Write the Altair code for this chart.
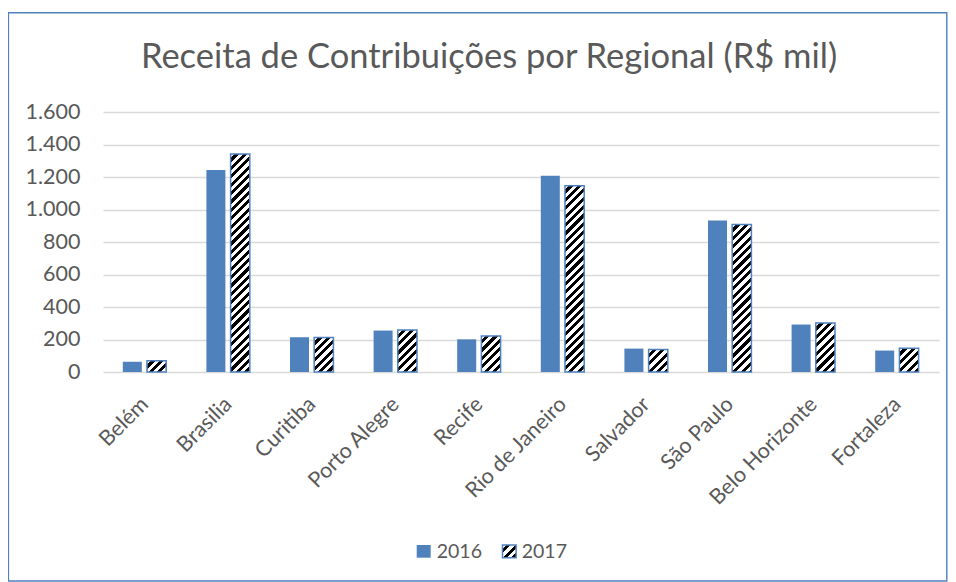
import altair as alt
import pandas as pd

# ---------------- data ----------------
categories = ["Belém", "Brasilia", "Curitiba", "Porto Alegre", "Recife",
              "Rio de Janeiro", "Salvador", "São Paulo", "Belo Horizonte", "Fortaleza"]
values_2016 = [63, 1243, 214, 255, 201, 1208, 144, 933, 292, 132]
values_2017 = [70, 1341, 212, 258, 222, 1146, 138, 908, 302, 146]
years = ["2016", "2017"]
y_ticks = [0, 200, 400, 600, 800, 1000, 1200, 1400, 1600]
title_text = "Receita de Contribuições por Regional (R$ mil)"

# ---------------- style / geometry ----------------
W, H = 836, 260
YMAX = 1600
FONT = "Lato"
TXT = "#595959"
BLUE = "#4F81BD"
GRID = "#D9D9D9"
cat_px = W / len(categories)
off16 = (-22 / cat_px, -3 / cat_px)
off17 = (2.2 / cat_px, 21.4 / cat_px)


def hatch(w, h, period=8.4, black_frac=0.5):
    """Diagonal '/' stripes as a sharp-stop linear gradient (bbox units)."""
    total = w + h
    k = total / (w * w + h * h)
    seg = [period * (1 - black_frac), period * black_frac]
    stops = []
    a, black = 0.0, False
    while a < total:
        b = min(a + seg[1 if black else 0], total)
        col = "#000000" if black else "#FFFFFF"
        stops.append(alt.GradientStop(color=col, offset=a / total))
        stops.append(alt.GradientStop(color=col, offset=b / total))
        a, black = b, not black
    return alt.LinearGradient(gradient="linear", stops=stops,
                              x1=0, y1=0, x2=k * w, y2=k * h)


rows = []
for i, c in enumerate(categories):
    rows.append(dict(cat=c, idx=i, year=years[0], value=values_2016[i],
                     x0=i + 0.5 + off16[0], x1=i + 0.5 + off16[1], zero=0))
    rows.append(dict(cat=c, idx=i, year=years[1], value=values_2017[i],
                     x0=i + 0.5 + off17[0], x1=i + 0.5 + off17[1], zero=0))
df = pd.DataFrame(rows)

names_js = "[" + ",".join("'" + c + "'" for c in categories) + "]"

xscale = alt.Scale(domain=[0, len(categories)], nice=False, zero=False)
yscale = alt.Scale(domain=[0, YMAX], nice=False)

xaxis = alt.Axis(values=[i + 0.5 for i in range(len(categories))],
                 labelExpr=names_js + "[floor(datum.value)]",
                 labelAngle=-45, labelAlign="right", labelBaseline="middle",
                 labelPadding=29, labelFontSize=21.5, labelFont=FONT,
                 labelColor=TXT, ticks=False, domain=False, grid=False,
                 title=None, labelOverlap=False, labelBound=False,
                 labelFlush=False)
yaxis = alt.Axis(values=y_ticks,
                 labelExpr="replace(format(datum.value, ','), ',', '.')",
                 labelFontSize=21.5, labelFont=FONT, labelColor=TXT,
                 labelPadding=23, ticks=False, domain=False,
                 grid=True, gridColor=GRID, gridWidth=1.4,
                 title=None)


def enc(ch):
    return ch.encode(
        x=alt.X("x0:Q", scale=xscale, axis=xaxis),
        x2="x1:Q",
        y=alt.Y("value:Q", scale=yscale, axis=yaxis),
        y2="zero:Q",
    )


layers = [enc(alt.Chart(df).transform_filter(alt.datum.year == years[0]).mark_rect(color=BLUE))]
for i in range(len(categories)):
    w_px = (off17[1] - off17[0]) * cat_px
    h_px = values_2017[i] / YMAX * H
    layers.append(enc(
        alt.Chart(df).transform_filter(
            (alt.datum.year == years[1]) & (alt.datum.idx == i)
        ).mark_rect(fill=hatch(w_px, h_px), stroke=BLUE, strokeWidth=1.5)
    ))

one = pd.DataFrame({"k": [0]})

# outer chart border
layers.append(alt.Chart(one).mark_rect(fillOpacity=0, stroke=BLUE, strokeWidth=1.4).encode(
    x=alt.value(-94.6), x2=alt.value(843.8), y=alt.value(-99.3), y2=alt.value(469)))

# legend
layers.append(alt.Chart(one).mark_rect(color=BLUE).encode(
    x=alt.value(313.7), x2=alt.value(327.7), y=alt.value(433), y2=alt.value(445.7)))
layers.append(alt.Chart(one).mark_rect(fill=hatch(13.6, 12.7), stroke=BLUE, strokeWidth=1.5).encode(
    x=alt.value(399.5), x2=alt.value(413.1), y=alt.value(433), y2=alt.value(445.7)))
layers.append(alt.Chart(one).mark_text(align="left", baseline="middle", font=FONT,
                                       fontSize=19.5, color=TXT).encode(
    x=alt.value(333.7), y=alt.value(439.6), text=alt.value(years[0])))
layers.append(alt.Chart(one).mark_text(align="left", baseline="middle", font=FONT,
                                       fontSize=19.5, color=TXT).encode(
    x=alt.value(418.7), y=alt.value(439.6), text=alt.value(years[1])))

chart = alt.layer(*layers).properties(
    width=W, height=H,
    title=alt.TitleParams(title_text, font=FONT, fontSize=34.5, fontWeight="normal",
                          color=TXT, anchor="middle", dx=-32, dy=63.5, offset=0),
    autosize=alt.AutoSizeParams(type="none"),
    padding={"left": 95, "top": 104, "right": 9, "bottom": 210},
    background="white",
).configure_view(stroke=None)

chart.save("out.html", embed_options={"renderer": "svg", "actions": False})
